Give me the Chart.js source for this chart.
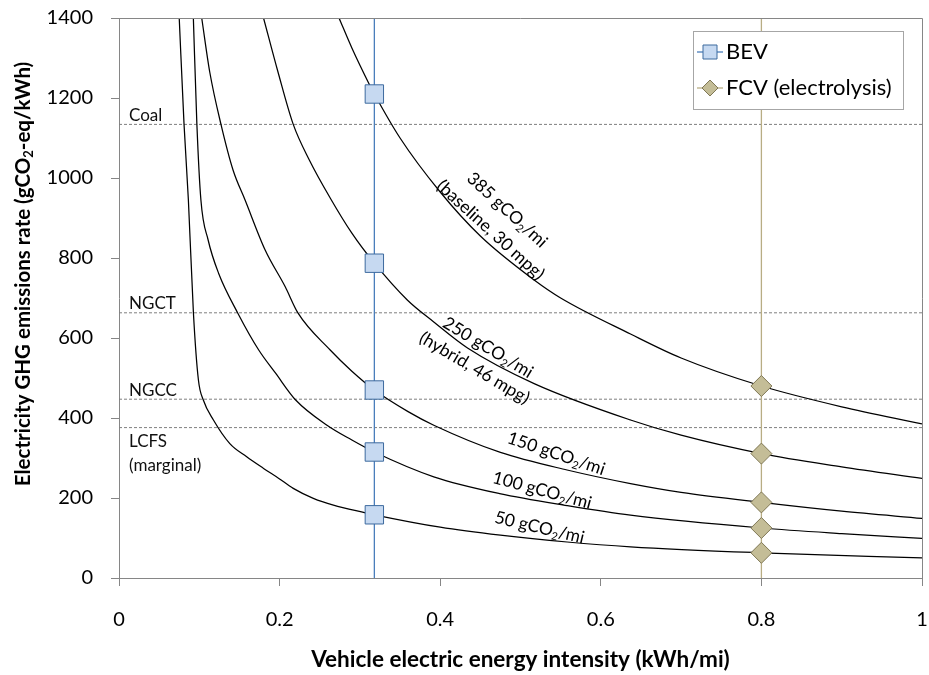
<!DOCTYPE html>
<html lang="en">
<head>
<meta charset="UTF-8">
<title>Electricity GHG emissions rate vs vehicle electric energy intensity</title>
<script src="https://cdn.jsdelivr.net/npm/chart.js@4.4.0/dist/chart.umd.min.js"></script>
<style>
  body { margin: 0; background: #fff; }
  #wrap { width: 929px; height: 675px; }
</style>
</head>
<body>
<div id="wrap"><canvas id="chart" width="929" height="675"></canvas></div>
<script>
// axis ranges and ticks
const xMin = 0, xMax = 1, yMin = 0, yMax = 1400;
const xTicks = [0, 0.2, 0.4, 0.6, 0.8, 1];
const yTicks = [0, 200, 400, 600, 800, 1000, 1200, 1400];

// iso-emission curves, [kWh/mi, gCO2-eq/kWh]
const curve385 = [[0.274,1400],[0.29,1325],[0.311,1237],[0.318,1210],[0.35,1100],[0.4,965],[0.45,855],
  [0.517,745],[0.55,700],[0.637,610],[0.7,550],[0.8,480],[0.9,428],[1.0,385]];
const curve250 = [[0.18,1400],[0.198,1265],[0.217,1134],[0.237,1045],[0.263,950],[0.29,862],[0.318,787],
  [0.359,695],[0.392,640],[0.434,575],[0.517,486],[0.637,395],[0.7,357],[0.8,311],[0.9,278],[1.0,249]];
const curve150 = [[0.103,1400],[0.113,1265],[0.127,1134],[0.142,1020],[0.157,945],[0.182,820],[0.207,728],
  [0.223,662],[0.263,570],[0.29,517],[0.318,470],[0.36,416],[0.392,382],[0.475,314],[0.558,270],
  [0.637,236],[0.7,214],[0.8,189],[0.9,167],[1.0,149]];
const curve100 = [[0.0926,1400],[0.097,1134],[0.102,945],[0.111,845],[0.124,762],[0.148,662],[0.174,570],
  [0.195,512],[0.22,445],[0.259,382],[0.29,345],[0.318,315],[0.392,253],[0.474,211],[0.558,181],
  [0.637,157],[0.8,125],[0.9,111],[1.0,99]];
const curve50 = [[0.075,1400],[0.081,1134],[0.0864,945],[0.0927,662],[0.0989,495],[0.105,445],[0.1176,395],
  [0.138,336],[0.159,303],[0.18,274],[0.199,249],[0.217,224],[0.242,199],[0.267,182],[0.307,163],
  [0.318,158],[0.4,127],[0.475,107],[0.558,90],[0.637,78],[0.8,63],[1.0,50]];

// vehicle points
const bevX = 0.318;
const bevY = [1210, 787, 470, 315, 158];
const fcvX = 0.8;
const fcvY = [480, 311, 189, 125, 63];

// grid emission reference levels
const refNames = ['Coal', 'NGCT', 'NGCC', 'LCFS'];
const refLevels = [1134, 663, 447, 376];

// curve captions: text lines, anchor (x, y) in data units, angle in degrees
const curveLabels = [
  ['385 gCO₂/mi', 0.4834, 920, 42.5],
  ['(baseline, 30 mpg)', 0.4626, 870, 42.3],
  ['250 gCO₂/mi', 0.4595, 576, 31],
  ['(hybrid, 46 mpg)', 0.4426, 525, 30.6],
  ['150 gCO₂/mi', 0.5445, 311, 18.7],
  ['100 gCO₂/mi', 0.527, 219, 15],
  ['50 gCO₂/mi', 0.5237, 126, 13.3]
];

const FONT = 'Lato';
const pts = a => a.map(([x, y]) => ({x, y}));
const vline = (x, ys) => [{x, y: yMin}, ...ys.slice().sort((a, b) => a - b).map(y => ({x, y})), {x, y: yMax}];

// text with "₂" drawn as a real subscript, centred on the origin
function drawRich(ctx, text, size, bold) {
  const w8 = bold ? 'bold ' : '';
  const base = w8 + size + 'px ' + FONT;
  const small = w8 + Math.round(size * 0.65) + 'px ' + FONT;
  const parts = [];
  text.split('₂').forEach((t, i) => { if (i) parts.push(['2', true]); if (t) parts.push([t, false]); });
  let w = 0;
  parts.forEach(([t, s]) => { ctx.font = s ? small : base; w += ctx.measureText(t).width; });
  let cx = -w / 2;
  ctx.textAlign = 'left';
  ctx.textBaseline = 'middle';
  parts.forEach(([t, s]) => {
    ctx.font = s ? small : base;
    ctx.fillText(t, cx, s ? size * 0.3 : 0);
    cx += ctx.measureText(t).width;
  });
}

const axisColor = '#868686';

const annotate = {
  id: 'annotate',
  afterDraw(chart) {
    const {ctx, chartArea: a, scales: {x, y}} = chart;
    ctx.save();

    // top and right frame of the plot area
    ctx.strokeStyle = axisColor;
    ctx.lineWidth = 1;
    ctx.beginPath();
    ctx.moveTo(a.left, a.top + 0.5);
    ctx.lineTo(a.right + 0.5, a.top + 0.5);
    ctx.lineTo(a.right + 0.5, a.bottom);
    ctx.stroke();

    // reference level captions
    ctx.fillStyle = '#111';
    ctx.font = '17px ' + FONT;
    ctx.textAlign = 'left';
    ctx.textBaseline = 'middle';
    refNames.forEach((n, i) => {
      const py = y.getPixelForValue(refLevels[i]);
      if (n === 'LCFS') {
        ctx.fillText('LCFS', a.left + 10, py + 13.5);
        ctx.fillText('(marginal)', a.left + 10, py + 37.5);
      } else {
        ctx.fillText(n, a.left + 10, py - 9);
      }
    });

    // curve captions
    ctx.fillStyle = '#000';
    curveLabels.forEach(([t, lx, ly, ang]) => {
      ctx.save();
      ctx.translate(x.getPixelForValue(lx), y.getPixelForValue(ly));
      ctx.rotate(ang * Math.PI / 180);
      drawRich(ctx, t, 17.5, false);
      ctx.restore();
    });

    // y axis title
    ctx.save();
    ctx.translate(23, 274);
    ctx.rotate(-Math.PI / 2);
    drawRich(ctx, 'Electricity GHG emissions rate (gCO₂-eq/kWh)', 20.5, true);
    ctx.restore();

    // legend box
    const lx = a.right - 229, ly = a.top + 13, lw = 210, lh = 78;
    ctx.fillStyle = '#fff';
    ctx.fillRect(lx, ly, lw, lh);
    ctx.strokeStyle = '#a6a6a6';
    ctx.lineWidth = 1;
    ctx.strokeRect(lx + 0.5, ly + 0.5, lw, lh);
    const rows = [
      {label: 'BEV', y: ly + 21, line: '#4a7ebb', fill: '#c6d9f1', edge: '#3d6a9e', shape: 'rect'},
      {label: 'FCV (electrolysis)', y: ly + 57, line: '#b8ad84', fill: '#c4bd97', edge: '#7f7754', shape: 'diamond'}
    ];
    rows.forEach(r => {
      const mx = lx + 17;
      ctx.strokeStyle = r.line;
      ctx.lineWidth = 1.3;
      ctx.beginPath();
      ctx.moveTo(lx + 4, r.y);
      ctx.lineTo(lx + 30, r.y);
      ctx.stroke();
      ctx.fillStyle = r.fill;
      ctx.strokeStyle = r.edge;
      ctx.lineWidth = 1;
      ctx.beginPath();
      if (r.shape === 'rect') {
        ctx.rect(mx - 7, r.y - 7, 14, 14);
      } else {
        ctx.moveTo(mx, r.y - 8); ctx.lineTo(mx + 8, r.y); ctx.lineTo(mx, r.y + 8); ctx.lineTo(mx - 8, r.y);
        ctx.closePath();
      }
      ctx.fill();
      ctx.stroke();
      ctx.fillStyle = '#000';
      ctx.font = '22px ' + FONT;
      ctx.textAlign = 'left';
      ctx.textBaseline = 'middle';
      ctx.fillText(r.label, lx + 33, r.y);
    });

    ctx.restore();
  }
};

const curveStyle = {
  showLine: true, borderColor: '#000', borderWidth: 1.25, pointRadius: 0,
  cubicInterpolationMode: 'monotone', fill: false
};

const bevData = vline(bevX, bevY);
const fcvData = vline(fcvX, fcvY);

const datasets = [
  {
    label: 'BEV', data: bevData, showLine: true, borderColor: '#4a7ebb', borderWidth: 1.3,
    pointStyle: 'rect', pointRadius: c => (c.dataIndex === 0 || c.dataIndex === bevData.length - 1) ? 0 : 13,
    pointBackgroundColor: '#c6d9f1', pointBorderColor: '#3d6a9e', pointBorderWidth: 1
  },
  {
    label: 'FCV (electrolysis)', data: fcvData, showLine: true, borderColor: '#b8ad84', borderWidth: 1.3,
    pointStyle: 'rectRot', pointRadius: c => (c.dataIndex === 0 || c.dataIndex === fcvData.length - 1) ? 0 : 10.5,
    pointBackgroundColor: '#c4bd97', pointBorderColor: '#7f7754', pointBorderWidth: 1
  },
  {label: '385', data: pts(curve385), ...curveStyle},
  {label: '250', data: pts(curve250), ...curveStyle},
  {label: '150', data: pts(curve150), ...curveStyle},
  {label: '100', data: pts(curve100), ...curveStyle},
  {label: '50', data: pts(curve50), ...curveStyle},
  ...refNames.map((n, i) => ({
    label: n, data: [{x: xMin, y: refLevels[i]}, {x: xMax, y: refLevels[i]}], showLine: true,
    borderColor: '#7f7f7f', borderWidth: 1, borderDash: [3, 2], pointRadius: 0
  }))
];

new Chart(document.getElementById('chart'), {
  type: 'scatter',
  data: {datasets},
  options: {
    responsive: false,
    animation: false,
    devicePixelRatio: 1,
    layout: {autoPadding: false, padding: {top: 18, right: 7, left: 0, bottom: 0}},
    plugins: {legend: {display: false}, tooltip: {enabled: false}},
    scales: {
      x: {
        type: 'linear', min: xMin, max: xMax,
        afterBuildTicks: s => { s.ticks = xTicks.map(v => ({value: v})); },
        afterFit: s => { s.height = 97; s.paddingLeft = 0; s.paddingRight = 0; },
        border: {color: axisColor, width: 1},
        grid: {drawOnChartArea: false, color: axisColor, tickLength: 8},
        ticks: {
          padding: 22, color: '#000', font: {family: FONT, size: 20}, maxRotation: 0, autoSkip: false,
          callback: v => String(+v.toFixed(1))
        },
        title: {
          display: true, text: 'Vehicle electric energy intensity (kWh/mi)', color: '#000',
          font: {family: FONT, size: 22.5, weight: 'bold'}, padding: {top: 0, bottom: 2}
        }
      },
      y: {
        type: 'linear', min: yMin, max: yMax,
        afterBuildTicks: s => { s.ticks = yTicks.map(v => ({value: v})); },
        afterFit: s => { s.width = 119; s.paddingTop = 0; s.paddingBottom = 0; },
        border: {color: axisColor, width: 1},
        grid: {drawOnChartArea: false, color: axisColor, tickLength: 8},
        ticks: {padding: 18, color: '#000', font: {family: FONT, size: 20}, autoSkip: false, callback: v => String(v)}
      }
    }
  },
  plugins: [annotate]
});
</script>
</body>
</html>
